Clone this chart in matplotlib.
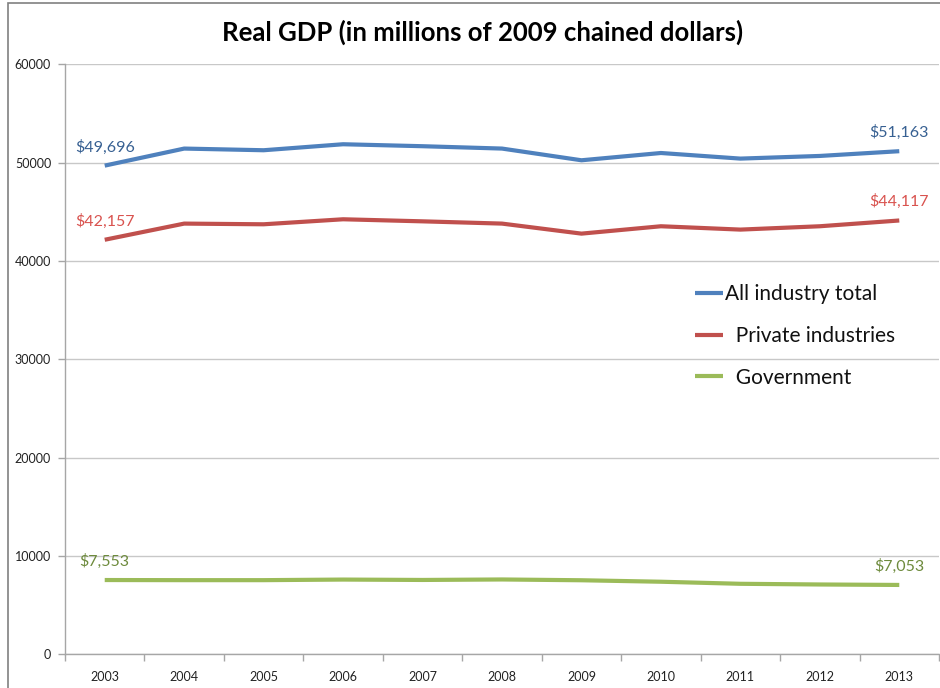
import matplotlib
matplotlib.use("Agg")
import matplotlib.pyplot as plt
from matplotlib.patches import Rectangle
from matplotlib.ticker import FixedLocator, NullFormatter

years = ["2003", "2004", "2005", "2006", "2007", "2008", "2009", "2010", "2011", "2012", "2013"]
all_industry = [49696, 51430, 51260, 51870, 51670, 51430, 50240, 50980, 50410, 50680, 51163]
private_ind = [42157, 43800, 43730, 44240, 44030, 43800, 42780, 43530, 43190, 43530, 44117]
government = [7553, 7540, 7540, 7600, 7560, 7610, 7530, 7380, 7170, 7100, 7053]
series_names = ["All industry total", "  Private industries", "  Government"]
yticks = [0, 10000, 20000, 30000, 40000, 50000, 60000]

line_colors = ["#4F81BD", "#C0504D", "#9BBB59"]
text_colors = ["#376092", "#D9534F", "#6E8B3D"]

plt.rcParams['font.family'] = ['Lato', 'DejaVu Sans']

fig = plt.figure(figsize=(9.4, 6.88), dpi=100)
W, H = 940, 688
ax = fig.add_axes([65 / W, (H - 654.3) / H, (939 - 65) / W, (654.3 - 64.3) / H])

x = list(range(len(years)))
series = [all_industry, private_ind, government]
for vals, name, col in zip(series, series_names, line_colors):
    ax.plot(x, vals, color=col, lw=3.0, label=name, solid_capstyle='butt', zorder=3)

# end labels
for vals, tcol in zip(series, text_colors):
    for i in (0, len(vals) - 1):
        ax.annotate(f"${vals[i]:,}", (x[i], vals[i]), xytext=(0, 8), textcoords='offset points',
                    ha='center', va='bottom', fontsize=11.5, color=tcol, zorder=4)

ax.set_xlim(-0.5, len(years) - 0.5)
ax.set_ylim(0, 60000)
ax.set_yticks(yticks)
ax.set_yticklabels([str(v) for v in yticks])
ax.set_xticks(x)
ax.set_xticklabels(years)
ax.xaxis.set_minor_locator(FixedLocator([i - 0.5 for i in range(len(years) + 1)]))
ax.xaxis.set_minor_formatter(NullFormatter())
ax.tick_params(axis='x', which='major', length=0, pad=12, labelsize=9, labelcolor='#222222')
ax.tick_params(axis='x', which='minor', length=5, color='#A6A6A6', width=1)
ax.tick_params(axis='y', length=5, color='#A6A6A6', width=1, pad=5, labelsize=9, labelcolor='#222222')

ax.grid(axis='y', color='#C8C8C8', lw=1, zorder=0)
for s in ('top', 'right'):
    ax.spines[s].set_visible(False)
for s in ('left', 'bottom'):
    ax.spines[s].set_color('#A6A6A6')
    ax.spines[s].set_linewidth(1)

leg = ax.legend(loc='upper left', bbox_to_anchor=((695 - 65) / 874, (654.3 - 284) / 590),
                frameon=False, fontsize=15, handlelength=1.35, handletextpad=0.1,
                labelspacing=1.05, borderpad=0, borderaxespad=0)
for t in leg.get_texts():
    t.set_color('#111111')

fig.text(483 / W, 1 - 32 / H, "Real GDP (in millions of 2009 chained dollars)",
         ha='center', va='center', fontsize=18.5, fontweight='bold', color='black')

fig.patches.append(Rectangle((8 / W, -0.1), 1.2, (H - 3) / H + 0.1, transform=fig.transFigure,
                             fill=False, edgecolor='#808080', lw=1.2))

fig.savefig("out.png", dpi=100)
